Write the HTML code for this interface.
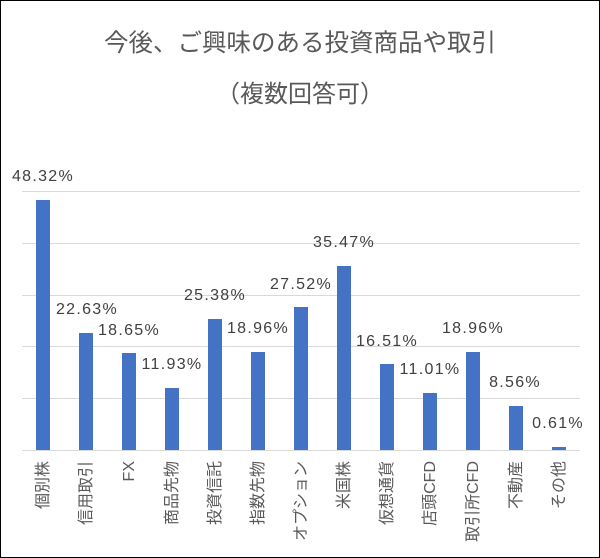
<!DOCTYPE html>
<html><head><meta charset="utf-8"><style>
html,body{margin:0;padding:0;background:#fff;}
svg{display:block;}
text{font-family:"Liberation Sans","Noto Sans CJK JP",sans-serif;}
</style></head><body>
<svg width="600" height="558" viewBox="0 0 600 558" xmlns="http://www.w3.org/2000/svg">
<rect x="0.5" y="0.5" width="599" height="557" fill="#fff" stroke="#000" stroke-width="1"/>
<text x="300" y="51" text-anchor="middle" font-size="24.5" fill="#595959">今後、ご興味のある投資商品や取引</text>
<text x="300" y="102" text-anchor="middle" font-size="24" fill="#595959">（複数回答可）</text>
<g stroke="#d9d9d9" stroke-width="1">
<line x1="22" y1="191.5" x2="580" y2="191.5"/>
<line x1="22" y1="243.5" x2="580" y2="243.5"/>
<line x1="22" y1="295.5" x2="580" y2="295.5"/>
<line x1="22" y1="346.5" x2="580" y2="346.5"/>
<line x1="22" y1="398.5" x2="580" y2="398.5"/>
<line x1="22" y1="450.5" x2="580" y2="450.5"/>
</g>
<g fill="#4472c4">
<rect x="36" y="200" width="14" height="250"/>
<rect x="79" y="333" width="14" height="117"/>
<rect x="122" y="353" width="14" height="97"/>
<rect x="165" y="388" width="14" height="62"/>
<rect x="208" y="319" width="14" height="131"/>
<rect x="251" y="352" width="14" height="98"/>
<rect x="294" y="307" width="14" height="143"/>
<rect x="337" y="266" width="14" height="184"/>
<rect x="380" y="364" width="14" height="86"/>
<rect x="423" y="393" width="14" height="57"/>
<rect x="466" y="352" width="14" height="98"/>
<rect x="509" y="406" width="14" height="44"/>
<rect x="552" y="447" width="14" height="3"/>
</g>
<g font-size="16" fill="#404040" text-anchor="middle" letter-spacing="1.3">
<text x="43" y="181">48.32%</text>
<text x="87" y="314">22.63%</text>
<text x="129" y="335">18.65%</text>
<text x="172" y="369">11.93%</text>
<text x="215" y="300">25.38%</text>
<text x="258" y="333">18.96%</text>
<text x="301" y="289">27.52%</text>
<text x="344" y="247">35.47%</text>
<text x="387" y="346">16.51%</text>
<text x="430" y="374">11.01%</text>
<text x="473" y="333">18.96%</text>
<text x="515" y="387">8.56%</text>
<text x="558" y="428">0.61%</text>
</g>
<g font-size="16" fill="#595959" text-anchor="end">
<text transform="translate(48,461) rotate(-90)">個別株</text>
<text transform="translate(91,461) rotate(-90)">信用取引</text>
<text transform="translate(134,461) rotate(-90)">FX</text>
<text transform="translate(177,461) rotate(-90)">商品先物</text>
<text transform="translate(220,461) rotate(-90)">投資信託</text>
<text transform="translate(263,461) rotate(-90)">指数先物</text>
<text transform="translate(306,461) rotate(-90)">オプション</text>
<text transform="translate(349,461) rotate(-90)">米国株</text>
<text transform="translate(392,461) rotate(-90)">仮想通貨</text>
<text transform="translate(435,461) rotate(-90)">店頭CFD</text>
<text transform="translate(478,461) rotate(-90)">取引所CFD</text>
<text transform="translate(521,461) rotate(-90)">不動産</text>
<text transform="translate(564,461) rotate(-90)">その他</text>
</g>
</svg>
</body></html>
